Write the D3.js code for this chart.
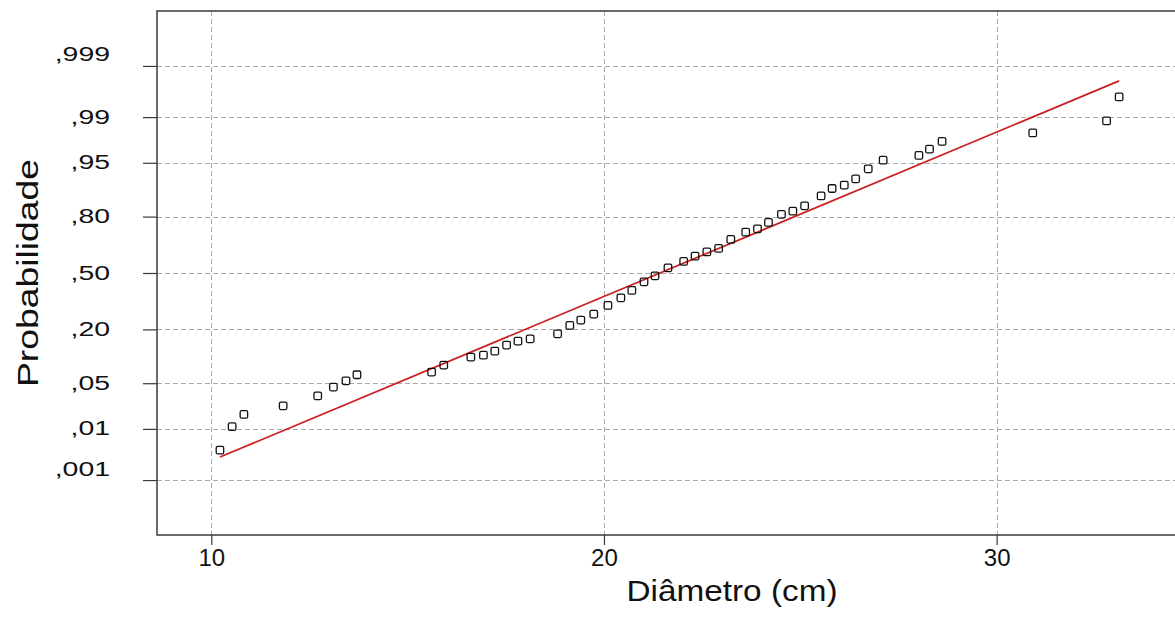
<!DOCTYPE html>
<html>
<head>
<meta charset="utf-8">
<script src="https://cdn.jsdelivr.net/npm/d3@7"></script>
<style>
  html, body { margin: 0; padding: 0; background: #fff; }
  svg { display: block; }
</style>
</head>
<body>
<svg id="chart" width="1175" height="621"></svg>
<script>
// Observed diameters (cm) and their cumulative probabilities
const diameters = [
  10.22, 10.53, 10.83, 11.83, 12.71, 13.11, 13.43, 13.71, 15.61, 15.92,
  16.61, 16.93, 17.22, 17.52, 17.81, 18.12, 18.82, 19.13, 19.41, 19.74,
  20.10, 20.43, 20.71, 21.02, 21.30, 21.63, 22.03, 22.32, 22.62, 22.92,
  23.23, 23.61, 23.91, 24.19, 24.52, 24.81, 25.11, 25.53, 25.81, 26.12,
  26.41, 26.73, 27.11, 28.02, 28.29, 28.61, 30.92, 32.80, 33.12
];
const probabilities = [
  0.0041, 0.0109, 0.0174, 0.0237, 0.0334, 0.0443, 0.0538, 0.0644, 0.0696, 0.0846,
  0.1047, 0.1101, 0.1218, 0.1409, 0.1546, 0.1630, 0.1820, 0.2170, 0.2410, 0.2697,
  0.3142, 0.3554, 0.3974, 0.4475, 0.4830, 0.5306, 0.5684, 0.5992, 0.6238, 0.6429,
  0.6916, 0.7288, 0.7450, 0.7746, 0.8092, 0.8220, 0.8418, 0.8751, 0.8964, 0.9050,
  0.9200, 0.9399, 0.9539, 0.9603, 0.9677, 0.9752, 0.9817, 0.9884, 0.9957
];

// Fitted normal distribution
const fitMean = 21.425;
const fitSd = 4.079;

// Axis ticks
const xTickValues = [10, 20, 30];
const yTickValues = [0.001, 0.01, 0.05, 0.20, 0.50, 0.80, 0.95, 0.99, 0.999];
const yTickLabels = [",001", ",01", ",05", ",20", ",50", ",80", ",95", ",99", ",999"];

// Inverse standard normal CDF (Acklam's rational approximation)
function probit(p) {
  const a = [-3.969683028665376e+01, 2.209460984245205e+02, -2.759285104469687e+02,
              1.383577518672690e+02, -3.066479806614716e+01, 2.506628277459239e+00];
  const b = [-5.447609879822406e+01, 1.615858368580409e+02, -1.556989798598866e+02,
              6.680131188771972e+01, -1.328068155288572e+01];
  const c = [-7.784894002430293e-03, -3.223964580411365e-01, -2.400758277161838e+00,
             -2.549732539343734e+00, 4.374664141464968e+00, 2.938163982698783e+00];
  const d = [7.784695709041462e-03, 3.224671290700398e-01, 2.445134137142996e+00,
             3.754408661907416e+00];
  const pLow = 0.02425, pHigh = 1 - pLow;
  let q, r;
  if (p < pLow) {
    q = Math.sqrt(-2 * Math.log(p));
    return (((((c[0]*q + c[1])*q + c[2])*q + c[3])*q + c[4])*q + c[5]) /
           ((((d[0]*q + d[1])*q + d[2])*q + d[3])*q + 1);
  } else if (p <= pHigh) {
    q = p - 0.5; r = q * q;
    return (((((a[0]*r + a[1])*r + a[2])*r + a[3])*r + a[4])*r + a[5]) * q /
           (((((b[0]*r + b[1])*r + b[2])*r + b[3])*r + b[4])*r + 1);
  } else {
    q = Math.sqrt(-2 * Math.log(1 - p));
    return -(((((c[0]*q + c[1])*q + c[2])*q + c[3])*q + c[4])*q + c[5]) /
            ((((d[0]*q + d[1])*q + d[2])*q + d[3])*q + 1);
  }
}

const svg = d3.select("#chart");
const plot = { left: 157, top: 11, right: 1180, bottom: 535 };

const x = d3.scaleLinear().domain([8.617, 34.67]).range([plot.left, plot.right]);
const z = d3.scaleLinear().domain([-3.91, 3.91]).range([plot.bottom, plot.top]);
const yP = p => z(probit(p));

const font = "'Liberation Sans', Arial, sans-serif";

// Stretch a text element horizontally along its baseline
function widen(sel, factor) {
  sel.each(function () {
    const w = this.getComputedTextLength();
    d3.select(this).attr("textLength", w * factor).attr("lengthAdjust", "spacingAndGlyphs");
  });
}

// Grid lines
const grid = svg.append("g").attr("stroke", "#a8a8a8").attr("stroke-width", 1)
  .attr("stroke-dasharray", "5,3").attr("fill", "none");
grid.selectAll("line.h").data(yTickValues).join("line").attr("class", "h")
  .attr("x1", plot.left).attr("x2", plot.right)
  .attr("y1", d => Math.round(yP(d)) + 0.5).attr("y2", d => Math.round(yP(d)) + 0.5);
grid.selectAll("line.v").data(xTickValues).join("line").attr("class", "v")
  .attr("y1", plot.top).attr("y2", plot.bottom)
  .attr("x1", d => Math.round(x(d)) + 0.5).attr("x2", d => Math.round(x(d)) + 0.5);

// Frame
svg.append("path")
  .attr("d", `M${plot.right},${plot.top}H${plot.left}V${plot.bottom}H${plot.right}`)
  .attr("fill", "none").attr("stroke", "#3a3a3a").attr("stroke-width", 1.5);

// Y axis (probability scale)
const yAxis = d3.axisLeft(z)
  .tickValues(yTickValues.map(probit))
  .tickFormat((d, i) => yTickLabels[i])
  .tickSize(14).tickPadding(33);
const gy = svg.append("g").attr("transform", `translate(${plot.left},0)`).call(yAxis);
gy.select(".domain").remove();
gy.selectAll(".tick line").attr("stroke", "#3a3a3a").attr("stroke-width", 1.2);
gy.selectAll(".tick text").attr("font-family", font).attr("font-size", 20).attr("fill", "#111")
  .attr("dy", (d, i) => (i === 0 || i === yTickLabels.length - 1) ? "-0.25em" : "0.3em")
  .call(widen, 1.42);

// X axis
const xAxis = d3.axisBottom(x).tickValues(xTickValues).tickFormat(d3.format("d"))
  .tickSize(10).tickPadding(4);
const gx = svg.append("g").attr("transform", `translate(0,${plot.bottom})`).call(xAxis);
gx.select(".domain").remove();
gx.selectAll(".tick line").attr("stroke", "#3a3a3a").attr("stroke-width", 1.2);
gx.selectAll(".tick text").attr("font-family", font).attr("font-size", 24).attr("fill", "#111");

// Axis titles
svg.append("text").attr("x", 732).attr("y", 601).attr("text-anchor", "middle")
  .attr("font-family", font).attr("font-size", 29).attr("fill", "#111")
  .text("Diâmetro (cm)")
  .attr("textLength", 211).attr("lengthAdjust", "spacingAndGlyphs");
svg.append("text").attr("transform", `translate(38,${z(0)}) rotate(-90)`)
  .attr("text-anchor", "middle").attr("font-family", font).attr("font-size", 30).attr("fill", "#111")
  .text("Probabilidade")
  .attr("textLength", 228).attr("lengthAdjust", "spacingAndGlyphs");

// Fitted normal line, spanning the observed range
const dMin = d3.min(diameters), dMax = d3.max(diameters);
svg.append("line")
  .attr("x1", x(dMin)).attr("y1", z((dMin - fitMean) / fitSd))
  .attr("x2", x(dMax)).attr("y2", z((dMax - fitMean) / fitSd))
  .attr("stroke", "#cc1f1f").attr("stroke-width", 1.7);

// Observations
const pts = diameters.map((d, i) => ({ d, p: probabilities[i] }));
const s = 7.5;
svg.append("g").selectAll("rect").data(pts).join("rect")
  .attr("x", d => x(d.d) - s / 2).attr("y", d => yP(d.p) - s / 2)
  .attr("width", s).attr("height", s).attr("rx", 1.5)
  .attr("fill", "none").attr("stroke", "#111").attr("stroke-width", 1.3);
</script>
</body>
</html>
